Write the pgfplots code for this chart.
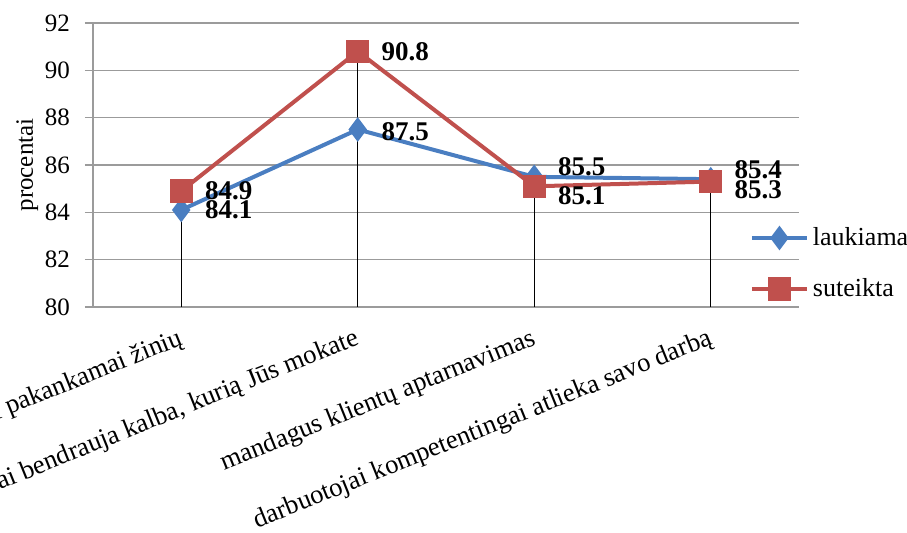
\documentclass[border=0pt]{standalone}
\usepackage{fontspec}
\setmainfont{Liberation Serif}
\usepackage{pgfplots}
\pgfplotsset{compat=1.18}
\definecolor{blueS}{RGB}{74,126,193}
\definecolor{redS}{RGB}{192,80,77}
\definecolor{gridc}{RGB}{155,155,155}
\pgfplotstableread{
x y lab dy
0 84.1 84.1 0
1 87.5 87.5 -1.2
2 85.5 85.5 5
3 85.4 85.4 4.5
}\laukiama
\pgfplotstableread{
x y lab dy
0 84.9 84.9 0
1 90.8 90.8 0
2 85.1 85.1 -4.5
3 85.3 85.3 -4
}\suteikta
\pgfplotstableread{
x y
0 84.9
1 90.8
2 85.5
3 85.4
}\drop
\begin{document}
\begin{tikzpicture}
\begin{axis}[
  scale only axis, width=353pt, height=142pt,
  xmin=-0.5, xmax=3.5, ymin=80, ymax=92,
  ytick={80,82,...,92},
  xtick={0,1,2,3},
  xticklabels={darbuotojai turi pakankamai žinių,{darbuotojai bendrauja kalba, kurią Jūs mokate},mandagus klientų aptarnavimas,darbuotojai kompetentingai atlieka savo darbą},
  x tick label style={yshift=-4.5pt, xshift=-1.5pt, rotate=22, anchor=north east, font=\fontsize{13.3}{14}\selectfont, inner sep=1pt},
  major x tick style={draw=none},
  ymajorgrids, grid style={gridc, line width=0.6pt},
  axis x line*=bottom, axis y line*=left,
  axis line style={gridc, line width=0.6pt, -},
  tick align=outside, ytick pos=left,
  major tick length=4pt,
  ytick style={gridc, line width=0.6pt},
  yticklabel style={font=\fontsize{12.5}{13}\selectfont, xshift=-4pt},
  /pgf/number format/assume math mode=true,
  ylabel={procentai},
  every axis y label/.style={at={(axis description cs:-0.093,0.5)}, rotate=90, anchor=center, font=\fontsize{12.5}{13}\selectfont},
  legend style={at={(axis description cs:0.93,0.153)}, anchor=west, draw=none, fill=none,
    font=\fontsize{13}{14}\selectfont, row sep=11pt, inner sep=0pt},
  legend cell align=left,
  legend image code/.code={\draw[mark repeat=2, mark phase=2] plot coordinates {(0pt,0pt) (13.75pt,0pt) (27.5pt,0pt)};},
  clip=false,
]
\addplot[blueS, line width=2pt, mark=diamond*, mark size=4.5pt, mark options={solid, fill=blueS},
  point meta=explicit symbolic, nodes near coords,
  visualization depends on={\thisrow{dy} \as \dy},
  every node near coord/.append style={anchor=west, xshift=11pt, yshift=\dy*1pt, text=black,
    font=\bfseries\fontsize{13.5}{14}\selectfont, inner sep=0pt}]
  table[x=x, y=y, meta=lab]{\laukiama};
\addlegendentry{laukiama}
\addplot[redS, line width=2pt, mark=square*, mark size=4.8pt, mark options={solid, fill=redS},
  point meta=explicit symbolic, nodes near coords,
  visualization depends on={\thisrow{dy} \as \dy},
  every node near coord/.append style={anchor=west, xshift=11pt, yshift=\dy*1pt, text=black,
    font=\bfseries\fontsize{13.5}{14}\selectfont, inner sep=0pt}]
  table[x=x, y=y, meta=lab]{\suteikta};
\addlegendentry{suteikta}
\addplot[black, line width=0.5pt, ycomb, mark=none, forget plot] table[x=x, y=y]{\drop};
\end{axis}
\pgfresetboundingbox
\path (current axis.south west) ++(-46.5pt,-113pt) rectangle ++(453.5pt,266.5pt);
\end{tikzpicture}
\end{document}
